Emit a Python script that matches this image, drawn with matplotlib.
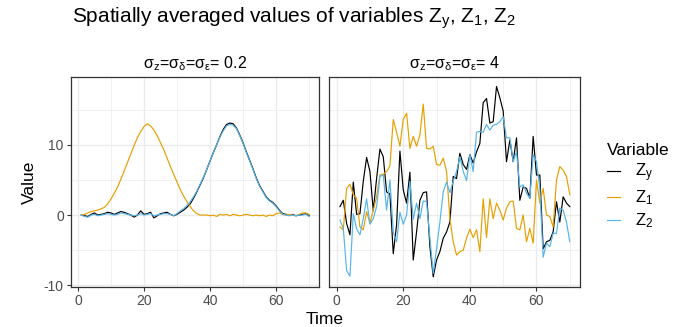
import numpy as np
import matplotlib
matplotlib.use("Agg")
import matplotlib.pyplot as plt

plt.rcParams['font.family'] = ['Liberation Sans', 'DejaVu Sans']
plt.rcParams['mathtext.fontset'] = 'custom'
plt.rcParams['mathtext.rm'] = 'Liberation Sans'
plt.rcParams['mathtext.it'] = 'Liberation Sans'
plt.rcParams['axes.unicode_minus'] = False

time = np.arange(1, 71)

# panel 1: sigma = 0.2
low_zy = [0.0, -0.1, -0.2, 0.1, 0.3, 0.0, 0.1, 0.2, 0.4, 0.3,
          0.1, 0.3, 0.5, 0.4, 0.2, 0.0, -0.3, 0.0, 0.6, 0.1,
          0.2, 0.4, -0.4, -0.1, 0.2, 0.3, 0.4, 0.1, -0.1, 0.1,
          0.4, 0.7, 1.1, 1.6, 2.4, 3.3, 4.3, 5.3, 6.5, 7.7,
          8.9, 10.0, 11.2, 12.2, 12.9, 13.1, 13.0, 12.4, 11.4, 10.3,
          9.0, 7.8, 6.6, 5.3, 4.2, 3.4, 2.6, 2.1, 1.8, 1.3,
          0.7, 0.2, 0.1, 0.0, 0.1, -0.1, 0.0, 0.1, 0.2, -0.1]
low_z1 = [0.0, 0.1, 0.3, 0.5, 0.6, 0.7, 0.9, 1.1, 1.6, 2.3,
          3.1, 4.0, 5.1, 6.3, 7.5, 8.7, 9.9, 11.0, 11.9, 12.6,
          13.0, 12.7, 12.1, 11.3, 10.3, 9.3, 8.1, 6.9, 5.8, 4.7,
          3.6, 2.7, 1.9, 1.2, 0.6, 0.2, 0.0, 0.0, 0.0, -0.1,
          0.0, -0.2, 0.1, 0.0, 0.1, -0.1, 0.1, 0.0, -0.1, 0.0,
          0.1, 0.0, -0.1, 0.0, -0.1, 0.0, -0.2, 0.0, -0.1, 0.2,
          0.3, 0.1, 0.0, 0.1, 0.0, -0.1, 0.1, 0.3, 0.3, 0.1]
low_z2 = [0.0, -0.2, -0.3, 0.0, 0.1, -0.1, 0.0, 0.1, 0.2, 0.1,
          0.0, 0.1, 0.3, 0.2, 0.1, 0.0, -0.1, 0.0, 0.2, 0.0,
          0.1, 0.2, -0.1, 0.0, 0.1, 0.2, 0.2, 0.1, -0.1, 0.2,
          0.6, 0.9, 1.4, 1.9, 2.6, 3.4, 4.4, 5.4, 6.5, 7.7,
          8.9, 10.0, 11.1, 12.0, 12.7, 12.9, 12.8, 12.3, 11.3, 10.2,
          8.9, 7.7, 6.5, 5.2, 4.1, 3.3, 2.5, 2.0, 1.7, 1.2,
          0.6, 0.1, 0.0, -0.1, 0.0, -0.1, 0.0, 0.0, 0.1, -0.2]

# panel 2: sigma = 4
high_zy = [1.2, 2.1, -1.2, -2.8, 4.7, 0.1, 0.2, 4.8, 8.2, 6.2,
           0.6, 5.2, 9.4, 8.3, 3.3, 3.0, -5.5, -1.4, 9.1, 3.6,
           1.7, 6.1, -6.4, -2.4, 2.1, 3.2, 3.3, -4.5, -8.8, -6.4,
           -5.2, -3.3, -2.4, -1.0, 5.5, 5.2, 8.8, 7.2, 6.5, 8.6,
           7.4, 9.0, 10.2, 16.0, 16.6, 13.1, 13.3, 18.3, 16.7, 14.8,
           7.6, 10.7, 7.6, 11.0, 2.1, 4.0, 3.8, 2.4, 11.2, 5.7,
           5.7, -4.8, -3.8, -3.6, -2.4, 1.9, -1.0, 2.6, 1.7, 1.2]
high_z1 = [-1.7, -2.1, 3.8, 4.4, 2.9, 2.4, -1.7, -2.1, 0.5, -1.2,
           0.7, 2.6, 5.7, 5.8, 6.2, 7.0, 13.6, 11.8, 9.8, 13.6,
           14.5, 9.5, 11.2, 9.8, 11.4, 15.8, 9.5, 9.4, 9.8, 7.2,
           7.1, 8.1, 6.2, -0.5, -3.8, -5.7, -5.2, -5.0, -3.3, -2.0,
           -3.2, -2.1, -5.2, 2.3, -3.2, 2.3, -0.5, 1.7, 0.7, -0.7,
           1.0, 1.9, 2.0, -1.9, -2.1, 0.0, -3.8, -1.9, -4.0, 5.0,
           1.7, 3.8, 0.0, -0.2, -1.7, 5.0, 6.9, 6.4, 5.5, 2.9]
high_z2 = [-0.7, -1.9, -7.9, -8.7, 0.2, -2.0, -2.8, -0.5, 2.3, -1.3,
           -0.5, 1.2, 5.5, 5.7, 0.7, 5.0, -2.4, -3.8, 0.4, -1.3,
           0.0, 4.8, -0.6, 1.7, -0.5, 2.0, 1.9, -3.3, -8.3, -4.8,
           -1.0, 3.3, 4.7, 3.2, 4.8, 6.2, 8.3, 6.2, 4.9, 8.6,
           6.2, 11.8, 11.9, 11.8, 12.9, 12.1, 12.8, 12.9, 13.3, 14.0,
           11.0, 11.0, 7.6, 9.0, 4.0, 4.3, 3.1, 2.4, 8.6, 7.6,
           3.8, -6.0, -4.0, -4.5, -2.6, -2.6, 1.0, 0.7, -1.0, -3.8]

panel_titles = [r'σ$_\mathregular{z}$=σ$_\mathregular{δ}$=σ$_\mathregular{ε}$= 0.2',
                r'σ$_\mathregular{z}$=σ$_\mathregular{δ}$=σ$_\mathregular{ε}$= 4']
series_labels = [r'Z$_\mathregular{y}$', r'Z$_\mathregular{1}$', r'Z$_\mathregular{2}$']
colors = ['black', '#E69F00', '#56B4E9']

W, H = 695, 327
fig = plt.figure(figsize=(W / 100, H / 100), dpi=100)
ax_l = fig.add_axes([70.7 / W, (H - 286.7) / H, 248.3 / W, 210 / H])
ax_r = fig.add_axes([329.3 / W, (H - 286.7) / H, 250.5 / W, 210 / H], sharey=ax_l)

panels = [(ax_l, [low_zy, low_z1, low_z2]), (ax_r, [high_zy, high_z1, high_z2])]
handles = []
for i, (ax, data) in enumerate(panels):
    for vals, col, lab in zip(data, colors, series_labels):
        h, = ax.plot(time, vals, color=col, lw=0.85, label=lab)
        if i == 0:
            handles.append(h)
    ax.set_xlim(-2.2, 73.0)
    ax.set_ylim(-10.2, 19.7)
    ax.set_xticks([0, 20, 40, 60])
    ax.set_xticks([10, 30, 50, 70], minor=True)
    ax.set_yticks([-10, 0, 10])
    ax.set_yticks([-5, 5, 15], minor=True)
    ax.grid(which='major', color='#EBEBEB', lw=1.0)
    ax.grid(which='minor', color='#EBEBEB', lw=0.5)
    ax.set_axisbelow(True)
    for s in ax.spines.values():
        s.set_color('#333333')
        s.set_linewidth(0.9)
    ax.tick_params(which='major', length=3, width=0.8, color='#333333',
                   labelsize=10, labelcolor='#4D4D4D', pad=2)
    ax.tick_params(which='minor', length=0)
    ax.set_title(panel_titles[i], fontsize=11.5, pad=6)

ax_r.tick_params(axis='y', labelleft=False, length=0)

fig.text(29 / W, 1 - 182 / H, 'Value', rotation=90, ha='center', va='center', fontsize=12.5)
fig.text(325 / W, 1 - 319 / H, 'Time', ha='center', va='center', fontsize=12.5)
fig.text(72 / W, 1 - 18 / H, r'Spatially averaged values of variables Z$_\mathregular{y}$, '
         r'Z$_\mathregular{1}$, Z$_\mathregular{2}$', ha='left', va='center', fontsize=15)

fig.legend(handles=handles, labels=series_labels, title='Variable',
           loc='upper left', bbox_to_anchor=(600 / W, 1 - 136 / H), frameon=False,
           fontsize=12, title_fontsize=12.5, handlelength=0.8, handletextpad=0.9,
           labelspacing=0.25, alignment='left', borderaxespad=0)

fig.savefig('out.png', dpi=100)
